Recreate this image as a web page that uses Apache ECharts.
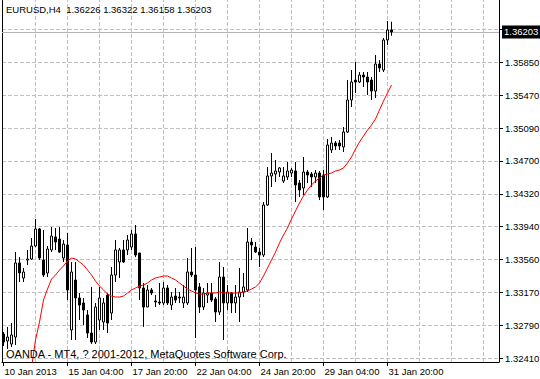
<!DOCTYPE html>
<html><head><meta charset="utf-8">
<script src="https://cdn.jsdelivr.net/npm/echarts@6/dist/echarts.min.js"></script>
<style>html,body{margin:0;padding:0;background:#fff}#c{width:540px;height:379px}</style>
</head><body><div id="c"></div>
<script>
// H4 bars, oldest first (last bar = 31 Jan)
const opens = [1.32692,1.32611,1.32576,1.32657,1.33518,1.33343,1.33552,1.33564,1.33715,1.33913,
1.33552,1.33401,1.33669,1.33820,1.33796,1.33576,1.33727,1.32739,1.33320,1.33111,
1.33053,1.32913,1.32704,1.32599,1.32855,1.32832,1.33145,1.32936,1.33378,1.33529,
1.33669,1.33669,1.33703,1.33855,1.33634,1.33227,1.33006,1.33204,1.33076,1.33064,
1.33053,1.33227,1.33029,1.33134,1.33122,1.33053,1.33053,1.33413,1.33378,1.33239,
1.33006,1.33145,1.33169,1.33099,1.32948,1.33355,1.33053,1.33169,1.33053,1.33122,
1.33180,1.33204,1.33761,1.33703,1.33645,1.33610,1.34192,1.34529,1.34552,1.34575,
1.34470,1.34517,1.34563,1.34587,1.34447,1.34389,1.34575,1.34552,1.34517,1.34563,
1.34540,1.34285,1.34831,1.34912,1.34912,1.34866,1.35040,1.35412,1.35644,1.35621,
1.35702,1.35679,1.35644,1.35516,1.35830,1.35760,1.36109,1.36226];
const closes = [1.32599,1.32657,1.32681,1.33518,1.33401,1.33413,1.33564,1.33715,1.33913,1.33576,
1.33378,1.33680,1.33831,1.33761,1.33645,1.33738,1.33204,1.33413,1.33111,1.33029,
1.32971,1.32704,1.32599,1.33006,1.33111,1.33053,1.32820,1.33378,1.33669,1.33669,
1.33529,1.33785,1.33855,1.33610,1.33227,1.33006,1.33204,1.33169,1.33064,1.33053,
1.33227,1.33053,1.33122,1.33087,1.33111,1.33122,1.33413,1.33378,1.33204,1.33006,
1.33169,1.33169,1.33087,1.32948,1.33355,1.33053,1.33180,1.33053,1.33122,1.33180,
1.33239,1.33761,1.33727,1.33645,1.33610,1.34192,1.34529,1.34563,1.34587,1.34622,
1.34529,1.34587,1.34598,1.34424,1.34366,1.34575,1.34540,1.34517,1.34563,1.34285,
1.34285,1.34889,1.34912,1.34877,1.34877,1.35040,1.35412,1.35621,1.35621,1.35702,
1.35679,1.35621,1.35516,1.35830,1.35784,1.36109,1.36225,1.36203];
const highs = [1.32716,1.32774,1.32820,1.33645,1.33587,1.33460,1.33669,1.33808,1.34029,1.33924,
1.33901,1.33715,1.33936,1.33924,1.33936,1.33785,1.33866,1.33529,1.33529,1.33169,
1.33111,1.32971,1.33239,1.33053,1.33239,1.33111,1.33169,1.33471,1.33785,1.33692,
1.33785,1.33843,1.33901,1.33959,1.33634,1.33285,1.33262,1.33227,1.33145,1.33285,
1.33297,1.33262,1.33180,1.33227,1.33180,1.33262,1.33576,1.33692,1.33703,1.33285,
1.33227,1.33285,1.33285,1.33122,1.33529,1.33471,1.33262,1.33180,1.33262,1.33460,
1.33401,1.33924,1.33808,1.33761,1.33692,1.34226,1.34633,1.34796,1.34715,1.34633,
1.34633,1.34691,1.34622,1.34691,1.34482,1.34749,1.34598,1.34575,1.34598,1.34587,
1.34598,1.34959,1.34982,1.34935,1.34947,1.35098,1.35644,1.35760,1.35853,1.35737,
1.35737,1.35737,1.35679,1.35935,1.35877,1.36132,1.36330,1.36322];
const lows = [1.32553,1.32518,1.32541,1.32564,1.33297,1.33297,1.33494,1.33552,1.33703,1.33552,
1.33355,1.33355,1.33645,1.33669,1.33634,1.33529,1.33087,1.32623,1.32623,1.32855,
1.32797,1.32646,1.32576,1.32576,1.32739,1.32739,1.32704,1.32855,1.33297,1.33343,
1.33518,1.33610,1.33669,1.33587,1.33087,1.32774,1.33006,1.33145,1.33006,1.33029,
1.33029,1.33029,1.32971,1.33053,1.33053,1.32994,1.33029,1.33355,1.32646,1.32936,
1.32971,1.33053,1.33064,1.32832,1.32913,1.32623,1.32971,1.32936,1.32936,1.32832,
1.33122,1.33180,1.33552,1.33634,1.33471,1.33587,1.34180,1.34401,1.34459,1.34517,
1.34447,1.34482,1.34517,1.34226,1.34285,1.34308,1.34447,1.34401,1.34447,1.34250,
1.34133,1.34273,1.34796,1.34831,1.34831,1.34807,1.35028,1.35330,1.35493,1.35609,
1.35563,1.35470,1.35412,1.35435,1.35737,1.35737,1.36051,1.36158];
// moving average (red)
const maValues = [null,null,null,null,null,null,null,1.32297,1.32623,1.32832,
1.33087,1.33215,1.33331,1.33378,1.33436,1.33483,1.33541,1.33576,1.33564,1.33529,
1.33494,1.33436,1.33378,1.33308,1.33250,1.33204,1.33157,1.33134,1.33122,1.33122,
1.33134,1.33169,1.33204,1.33227,1.33250,1.33262,1.33285,1.33320,1.33343,1.33355,
1.33366,1.33366,1.33343,1.33320,1.33285,1.33250,1.33215,1.33192,1.33169,1.33157,
1.33157,1.33169,1.33169,1.33169,1.33180,1.33169,1.33169,1.33169,1.33169,1.33169,
1.33180,1.33192,1.33215,1.33239,1.33285,1.33366,1.33460,1.33552,1.33645,1.33750,
1.33843,1.33924,1.34029,1.34122,1.34215,1.34296,1.34366,1.34424,1.34470,1.34505,
1.34540,1.34552,1.34563,1.34587,1.34598,1.34622,1.34680,1.34749,1.34842,1.34924,
1.34993,1.35063,1.35121,1.35191,1.35296,1.35400,1.35493,1.35586];
// axis ticks
const xTickIndex = [0,16,32,48,64,80,96];
const xTickLabels = ['10 Jan 2013','15 Jan 04:00','17 Jan 20:00','22 Jan 04:00','24 Jan 20:00','29 Jan 04:00','31 Jan 20:00'];
const xGridIndex = [8,16,24,32,40,48,56,64,72,80,88,96,104,112,120];
const yTickValues = [1.32410,1.32792,1.33175,1.33557,1.33939,1.34322,1.34704,1.35086,1.35469,1.35851,1.36233];
const yTickLabels = ['1.32410','1.32790','1.33170','1.33560','1.33940','1.34320','1.34700','1.35090','1.35470','1.35850',''];
const symbolName = 'EURUSD,H4';
const copyright = 'OANDA - MT4, ? 2001-2012, MetaQuotes Software Corp.';
const yRange = [1.32367, 1.36574];
const xRange = [-0.375, 123.875];

const FONT = '"Liberation Sans", Arial, sans-serif';
const FS = 9.5;
const last = opens.length - 1;
const f5 = v => v.toFixed(5);
const header = symbolName + '  ' + [opens[last], highs[last], lows[last], closes[last]].map(f5).join(' ');

const candleData = opens.map((o, i) => [i, o, closes[i], lows[i], highs[i]]);
const maData = maValues.map((v, i) => v == null ? null : [i, v]).filter(Boolean);

const noLabel = {show: false};
const gridMarks = []
  .concat(xGridIndex.map(v => ({xAxis: v})))
  .concat(yTickValues.map(v => ({yAxis: v})));

const chart = echarts.init(document.getElementById('c'), null, {renderer: 'svg', width: 540, height: 379});
chart.setOption({
  animation: false,
  backgroundColor: '#fff',
  grid: {left: 2, right: 41, top: 0, bottom: 17, containLabel: false, outerBoundsMode: 'none'},
  xAxis: [
    {type: 'value', min: xRange[0], max: xRange[1], position: 'bottom',
     axisLine: {show: true, onZero: false, lineStyle: {color: '#000', width: 1}},
     axisTick: {show: true, length: 4, customValues: xTickIndex, lineStyle: {color: '#000'}},
     axisLabel: {show: true, customValues: xTickIndex, align: 'left', margin: 4, color: '#000',
       fontSize: FS, fontFamily: FONT, padding: [0, 0, 0, 1],
       formatter: v => { const k = xTickIndex.indexOf(Math.round(v)); return k < 0 ? '' : xTickLabels[k]; }},
     splitLine: {show: false}}
  ],
  yAxis: [
    {type: 'value', position: 'right', min: yRange[0], max: yRange[1],
     axisLine: {show: true, onZero: false, lineStyle: {color: '#000', width: 1}},
     axisTick: {show: true, length: 4, customValues: yTickValues, lineStyle: {color: '#000'}},
     axisLabel: {show: true, customValues: yTickValues, margin: 6, color: '#000', fontSize: FS, fontFamily: FONT,
       formatter: v => { let k = -1, best = 1; yTickValues.forEach((t, j) => { if (Math.abs(t - v) < best) { best = Math.abs(t - v); k = j; } }); return yTickLabels[k]; }},
     splitLine: {show: false}},
    {type: 'value', position: 'left', min: yRange[0], max: yRange[1],
     axisLine: {show: true, onZero: false, lineStyle: {color: '#000', width: 1}},
     axisTick: {show: false}, axisLabel: {show: false}, splitLine: {show: false}}
  ],
  series: [
    {type: 'line', name: 'grid', xAxisIndex: 0, yAxisIndex: 0, data: maData, showSymbol: false, symbol: 'none', z: 0,
     lineStyle: {opacity: 0}, silent: true,
     markLine: {silent: true, symbol: ['none', 'none'], animation: false, z: 0, precision: 5,
       lineStyle: {color: '#c0c0c0', width: 1, type: 'dashed'}, label: noLabel, data: gridMarks}},
    {type: 'candlestick', xAxisIndex: 0, yAxisIndex: 0, data: candleData, barWidth: 2, z: 2,
     itemStyle: {color: '#fff', color0: '#000', borderColor: '#000', borderColor0: '#000', borderColorDoji: '#000', borderWidth: 1}},
    {type: 'line', xAxisIndex: 0, yAxisIndex: 0, data: maData, showSymbol: false, symbol: 'none', z: 3, clip: true,
     lineStyle: {color: '#ff0000', width: 1},
     markLine: {silent: true, symbol: ['none', 'none'], animation: false, z: 1, precision: 5,
       lineStyle: {color: '#b4b4b4', type: 'solid', width: 1},
       label: {show: true, position: 'end', distance: 3, formatter: f5(closes[last]), color: '#fff',
         backgroundColor: '#000', padding: [2, 2, 1, 2], fontSize: FS, fontFamily: FONT},
       data: [{yAxis: closes[last]}]}}
  ],
  graphic: [
    {type: 'text', left: 6, top: 4.5, z: 100, style: {text: header, fill: '#000', font: FS + 'px ' + FONT}},
    {type: 'text', left: 6, top: 348, z: 100, style: {text: copyright, fill: '#000', font: '11px ' + FONT}}
  ]
});
</script></body></html>
